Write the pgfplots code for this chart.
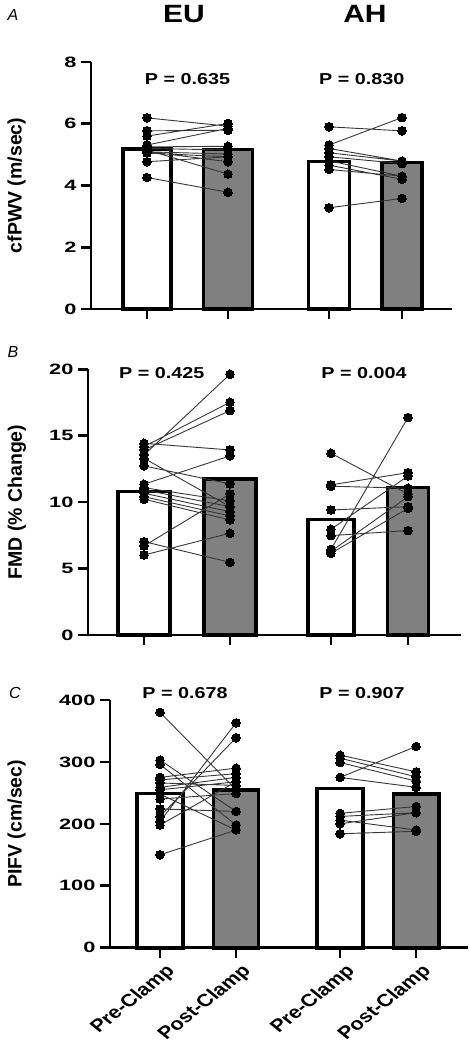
\documentclass[border=0pt]{standalone}
\usepackage{fontspec}
\setmainfont{Liberation Sans}
\usepackage{pgfplots}
\pgfplotsset{compat=1.18}
\definecolor{barg}{RGB}{128,128,128}
\definecolor{lineg}{RGB}{55,55,55}
\pgfplotsset{
  panel/.style={
    scale only axis,
    anchor=south west,
    axis lines=left,
    axis line style={-, line width=2.6pt, black},
    clip=false,
    tick align=outside,
    major tick length=10pt,
    every tick/.style={line width=2.6pt, black},
    ymin=0,
    /pgf/number format/assume math mode=true,
    yticklabel style={font=\fontsize{15}{17}\selectfont\bfseries, xscale=1.45, anchor=east, inner sep=1pt, xshift=-2pt},
    xticklabels={},
  },
  ylab/.style={every axis y label/.style={at={(axis description cs:#1,0.5)}, rotate=90, anchor=center, font=\fontsize{19.5}{21}\selectfont\bfseries}},
  prebar/.style={ybar, bar width=#1, fill=white, draw=black, line width=3.6pt},
  postbar/.style={ybar, bar width=#1, fill=barg, draw=black, line width=3.6pt},
  pairs/.style={lineg, line width=0.9pt, unbounded coords=jump, mark=*, mark size=4.3pt, mark options={fill=black, draw=black, line width=0pt}},
}
\begin{document}
\begin{tikzpicture}[x=1pt,y=1pt]
\useasboundingbox (0,0) rectangle (469,1050);
% ---------------- Panel A ----------------
\begin{axis}[panel, at={(91pt,741pt)}, width=361pt, height=247pt,
  xmin=-0.691, xmax=3.765, ymax=8, ytick={0,2,4,6,8},
  xtick={0,1,2.247,3.148}, ylab=-0.206, ylabel={cfPWV (m/sec)}]
\addplot[prebar=0.586] coordinates {(0,5.18)};
\addplot[postbar=0.60] coordinates {(1,5.17)};
\addplot[prebar=0.51] coordinates {(2.247,4.78)};
\addplot[postbar=0.49] coordinates {(3.148,4.74)};
\addplot[pairs] coordinates {
(0,6.19) (1,5.92) (0,nan)
(0,5.77) (1,5.79) (0,nan)
(0,5.60) (1,6.01) (0,nan)
(0,5.31) (1,5.85) (0,nan)
(0,5.25) (1,5.27) (0,nan)
(0,5.20) (1,5.15) (0,nan)
(0,5.15) (1,4.37) (0,nan)
(0,5.09) (1,5.02) (0,nan)
(0,5.05) (1,4.93) (0,nan)
(0,4.77) (1,4.93) (0,nan)
(0,4.26) (1,3.78) (0,nan)
(0,5.10) (1,4.77)
};
\addplot[pairs] coordinates {
(2.247,5.90) (3.148,5.77) (2.247,nan)
(2.247,5.31) (3.148,6.20) (2.247,nan)
(2.247,5.20) (3.148,4.79) (2.247,nan)
(2.247,5.06) (3.148,4.79) (2.247,nan)
(2.247,4.93) (3.148,4.71) (2.247,nan)
(2.247,4.80) (3.148,4.30) (2.247,nan)
(2.247,4.66) (3.148,4.20) (2.247,nan)
(2.247,4.52) (3.148,4.30) (2.247,nan)
(2.247,3.28) (3.148,3.58)
};
\end{axis}
% ---------------- Panel B ----------------
\begin{axis}[panel, at={(88pt,415pt)}, width=373pt, height=265.7pt,
  xmin=-0.651, xmax=3.686, ymax=20, ytick={0,5,10,15,20},
  xtick={0,1,2.174,3.07}, ylab=-0.191, ylabel={FMD (\% Change)}]
\addplot[prebar=0.60] coordinates {(0,10.8)};
\addplot[postbar=0.61] coordinates {(1,11.75)};
\addplot[prebar=0.53] coordinates {(2.174,8.7)};
\addplot[postbar=0.48] coordinates {(3.07,11.1)};
\addplot[pairs] coordinates {
(0,14.43) (1,13.93) (0,nan)
(0,14.18) (1,17.52) (0,nan)
(0,13.93) (1,16.89) (0,nan)
(0,13.55) (1,19.63) (0,nan)
(0,13.30) (1,9.66) (0,nan)
(0,12.73) (1,11.37) (0,nan)
(0,11.35) (1,13.48) (0,nan)
(0,11.09) (1,10.09) (0,nan)
(0,10.92) (1,9.66) (0,nan)
(0,10.67) (1,9.28) (0,nan)
(0,10.41) (1,8.96) (0,nan)
(0,10.22) (1,8.66) (0,nan)
(0,7.03) (1,5.47) (0,nan)
(0,6.70) (1,10.62) (0,nan)
(0,6.02) (1,7.66)
};
\addplot[pairs] coordinates {
(2.174,13.68) (3.07,10.60) (2.174,nan)
(2.174,11.30) (3.07,12.22) (2.174,nan)
(2.174,11.20) (3.07,11.05) (2.174,nan)
(2.174,9.41) (3.07,9.66) (2.174,nan)
(2.174,7.96) (3.07,11.97) (2.174,nan)
(2.174,7.48) (3.07,7.86) (2.174,nan)
(2.174,6.45) (3.07,16.37) (2.174,nan)
(2.174,6.30) (3.07,10.41) (2.174,nan)
(2.174,6.15) (3.07,9.54)
};
\end{axis}
% ---------------- Panel C ----------------
\begin{axis}[panel, at={(110pt,102.3pt)}, width=358pt, height=247.7pt,
  xmin=-0.658, xmax=4.05, ymax=400, ytick={0,100,200,300,400},
  xtick={0,1,2.368,3.368},
  xticklabels={Pre-Clamp,Post-Clamp,Pre-Clamp,Post-Clamp},
  xticklabel style={font=\fontsize{17.5}{19}\selectfont\bfseries, xscale=1.24, rotate=45, anchor=north east, inner sep=1pt, yshift=-5pt},
  ylab=-0.261, ylabel={PIFV (cm/sec)}]
\addplot[prebar=0.60] coordinates {(0,249)};
\addplot[postbar=0.59] coordinates {(1,255)};
\addplot[prebar=0.60] coordinates {(2.368,257)};
\addplot[postbar=0.60] coordinates {(3.368,248)};
\addplot[pairs] coordinates {
(0,380) (1,255) (0,nan)
(0,303) (1,220) (0,nan)
(0,296) (1,198) (0,nan)
(0,275) (1,290) (0,nan)
(0,271) (1,281) (0,nan)
(0,266) (1,262) (0,nan)
(0,259) (1,275) (0,nan)
(0,255) (1,268) (0,nan)
(0,248) (1,190) (0,nan)
(0,240) (1,249) (0,nan)
(0,224) (1,220) (0,nan)
(0,212) (1,339) (0,nan)
(0,204) (1,363) (0,nan)
(0,198) (1,268) (0,nan)
(0,150) (1,190)
};
\addplot[pairs] coordinates {
(2.368,311) (3.368,284) (2.368,nan)
(2.368,306) (3.368,276) (2.368,nan)
(2.368,299) (3.368,269) (2.368,nan)
(2.368,275) (3.368,325) (2.368,nan)
(2.368,275) (3.368,259) (2.368,nan)
(2.368,217) (3.368,228) (2.368,nan)
(2.368,212) (3.368,218) (2.368,nan)
(2.368,206) (3.368,190) (2.368,nan)
(2.368,200) (3.368,218) (2.368,nan)
(2.368,184) (3.368,188)
};
\end{axis}
% ---------------- texts ----------------
\node[font=\fontsize{16}{18}\selectfont\itshape] at (13,1035) {A};
\node[font=\fontsize{16}{18}\selectfont\itshape] at (13,697.5) {B};
\node[font=\fontsize{16}{18}\selectfont\itshape] at (15,357) {C};
\node[font=\fontsize{25}{28}\selectfont\bfseries, xscale=1.2] at (184,1036) {EU};
\node[font=\fontsize{25}{28}\selectfont\bfseries, xscale=1.2] at (365,1036) {AH};
\tikzset{pv/.style={font=\fontsize{15.8}{18}\selectfont\bfseries, xscale=1.25}}
\node[pv] at (187.5,971.2) {P = 0.635};
\node[pv] at (361.7,971.2) {P = 0.830};
\node[pv] at (161.7,677) {P = 0.425};
\node[pv] at (364,677) {P = 0.004};
\node[pv] at (185,356.5) {P = 0.678};
\node[pv] at (362,356.5) {P = 0.907};
\end{tikzpicture}
\end{document}
